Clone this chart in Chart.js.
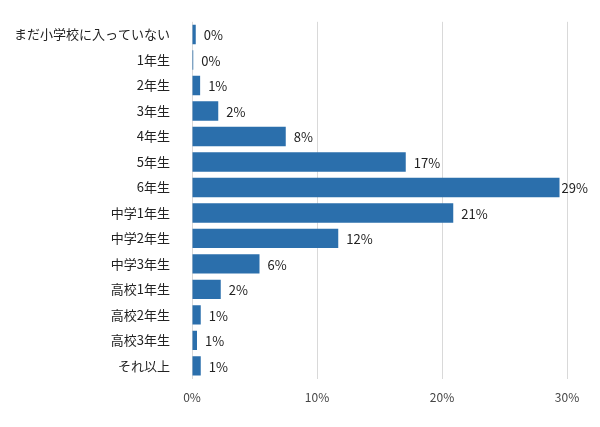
<!DOCTYPE html>
<html><head><meta charset="utf-8">
<script src="https://cdn.jsdelivr.net/npm/chart.js@4"></script>
<style>html,body{margin:0;padding:0;background:#fff}#w{width:600px;height:427px}</style>
</head><body><div id="w"><canvas id="c"></canvas></div>
<script>
const categories = ["まだ小学校に入っていない","1年生","2年生","3年生","4年生","5年生","6年生","中学1年生","中学2年生","中学3年生","高校1年生","高校2年生","高校3年生","それ以上"];
const values = [0.3,0.1,0.65,2.1,7.5,17.1,29.4,20.9,11.7,5.4,2.3,0.7,0.4,0.7];
const valueLabels = ["0%","0%","1%","2%","8%","17%","29%","21%","12%","6%","2%","1%","1%","1%"];
const xTicks = [0,10,20,30];
const font = "'Noto Sans CJK JP','Noto Sans',sans-serif";
const labelPlugin = {
  id:'vl',
  afterDatasetsDraw(chart){
    const ctx = chart.ctx;
    const meta = chart.getDatasetMeta(0);
    ctx.save();
    ctx.font = "13px " + font;
    ctx.fillStyle = "#222";
    ctx.textBaseline = "middle";
    meta.data.forEach((b,i)=>{
      const x = i===6 ? b.x+2 : b.x+8;
      ctx.fillText(valueLabels[i], x, b.y+1);
    });
    ctx.restore();
  }
};
new Chart(document.getElementById('c'),{
  type:'bar',
  data:{labels:categories,datasets:[{data:values,backgroundColor:'#2b6fac',barPercentage:0.8,categoryPercentage:0.95}]},
  options:{
    indexAxis:'y',responsive:true,maintainAspectRatio:false,animation:false,
    layout:{padding:{left:0,right:33,top:14,bottom:10}},
    plugins:{legend:{display:false},tooltip:{enabled:false}},
    scales:{
      x:{min:0,max:30,afterBuildTicks(a){a.ticks=xTicks.map(v=>({value:v}));},
        grid:{color:'#d9d9d9',drawTicks:false},border:{display:false},
        ticks:{padding:12,color:'#444',font:{family:font,size:12},callback:v=>v+'%'}},
      y:{grid:{display:false},border:{display:false},
        ticks:{padding:14,color:'#222',font:{family:font,size:13}}}
    }
  },
  plugins:[labelPlugin]
});
</script></body></html>
